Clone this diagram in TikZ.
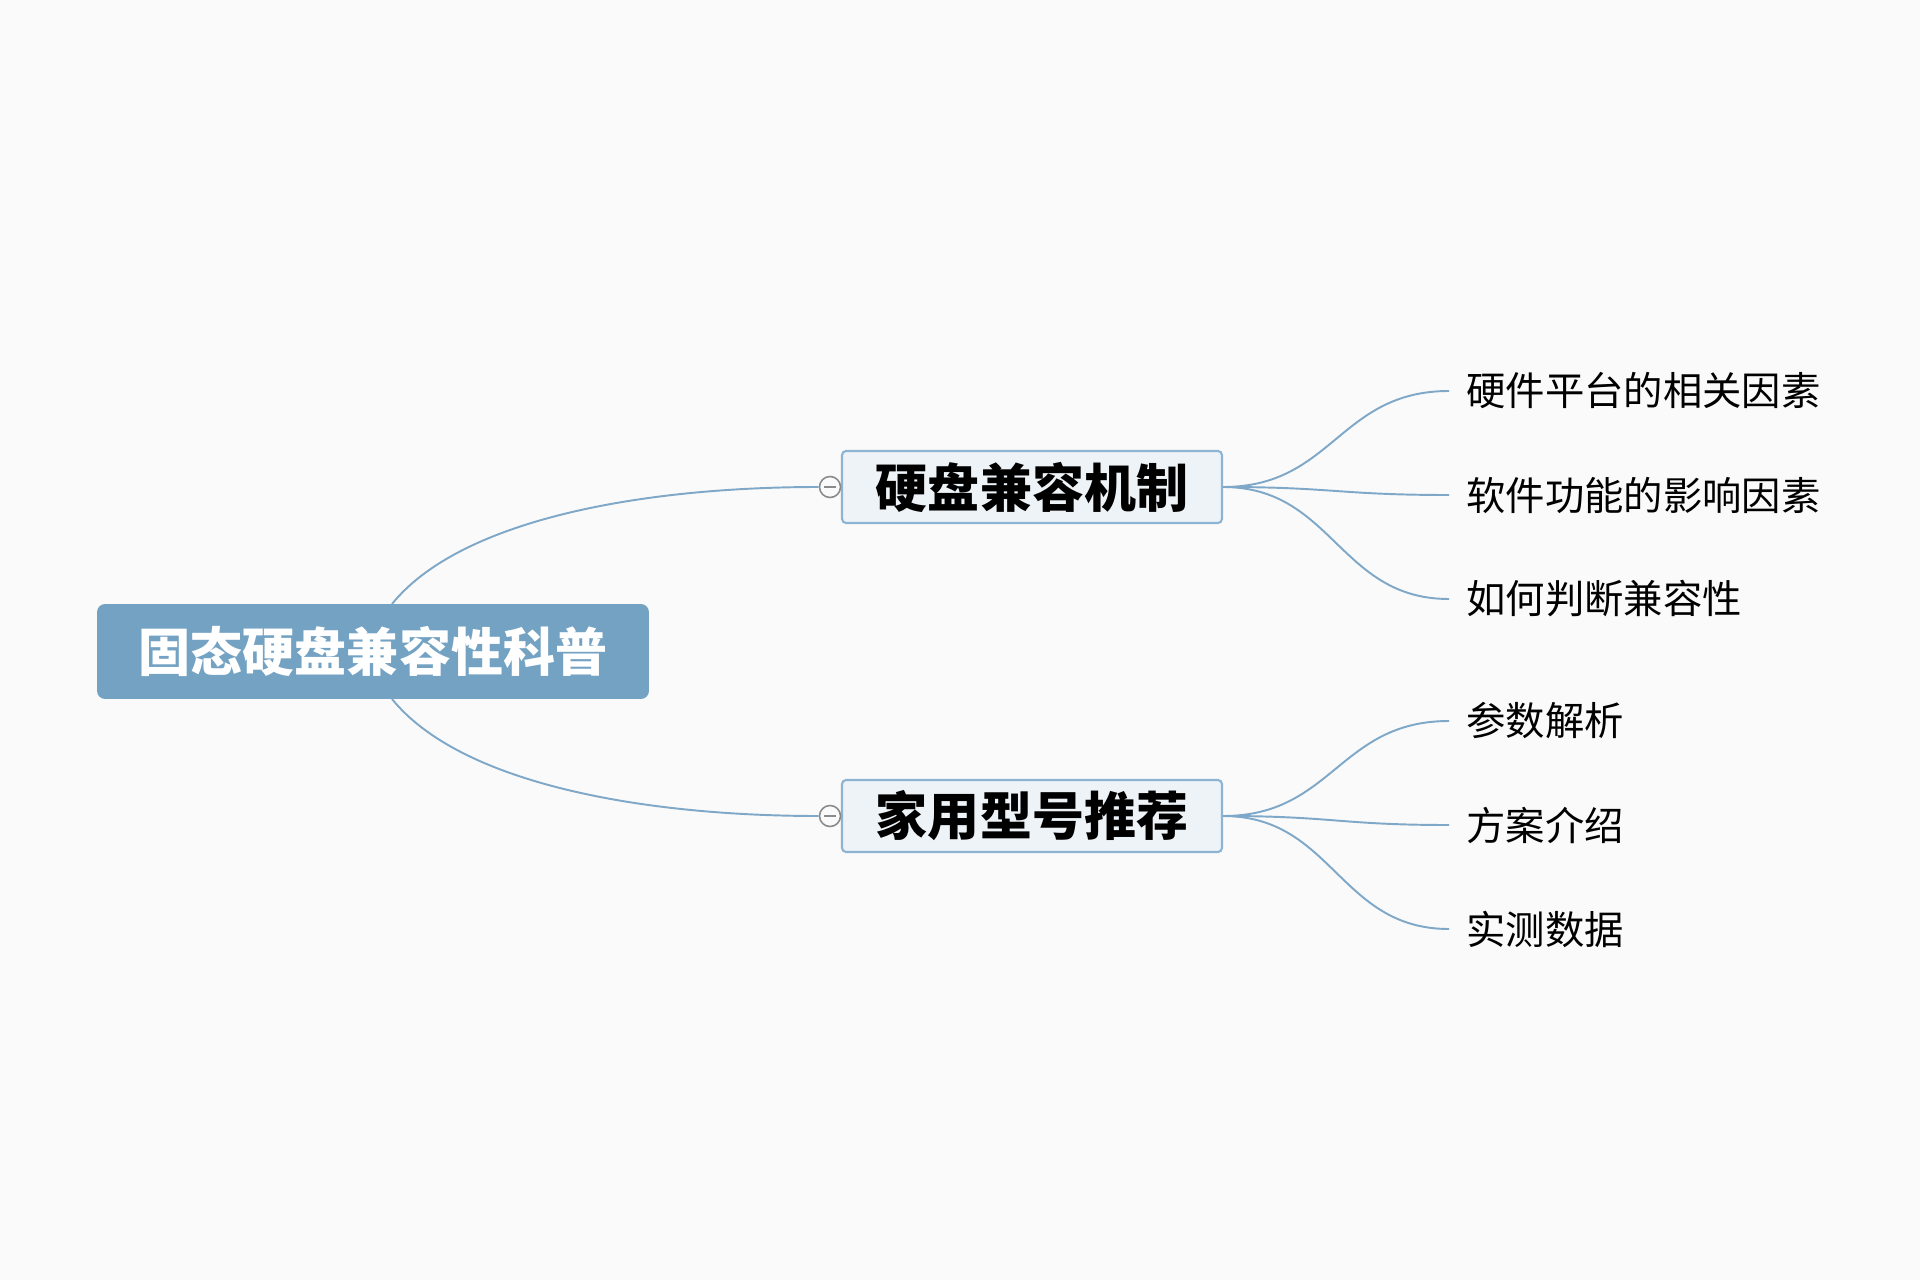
\documentclass[tikz,border=0pt]{standalone}
\usepackage{fontspec}
\newfontfamily\cjk{Noto Sans CJK SC}
\definecolor{bgc}{HTML}{FAFAFA}
\definecolor{rootfill}{HTML}{73A2C3}
\definecolor{subfill}{HTML}{EEF3F8}
\definecolor{subdraw}{HTML}{8DB4D2}
\definecolor{linec}{HTML}{7FA8C8}
\definecolor{markc}{HTML}{8A8A8A}
\tikzset{
  rootbox/.style={fill=rootfill, rounded corners=0.16cm, minimum width=11.04cm, minimum height=1.9cm, inner sep=0pt, text=white, font=\cjk\bfseries\fontsize{29.6pt}{32pt}\selectfont},
  subbox/.style={fill=subfill, draw=subdraw, line width=1.2pt, rounded corners=0.08cm, minimum width=7.6cm, minimum height=1.44cm, inner sep=0pt, text=black, font=\cjk\bfseries\fontsize{29.6pt}{32pt}\selectfont},
  leaf/.style={anchor=west, inner ysep=0pt, inner xsep=0.34cm, text=black, font=\cjk\fontsize{22.4pt}{26pt}\selectfont},
  marker/.style={circle, draw=markc, line width=0.9pt, fill=bgc, minimum size=0.42cm, inner sep=0pt},
  conn/.style={draw=linec, line width=1.1pt},
}
\begin{document}
\begin{tikzpicture}[x=0.02cm, y=-0.02cm]
\fill[bgc] (0,0) rectangle (1920,1280);
\useasboundingbox (0,0) rectangle (1920,1280);

\node[rootbox] (root) at (373,651.5) {固态硬盘兼容性科普};
\coordinate (rtop) at (392,604);
\coordinate (rbot) at (392,699);

\node[subbox] (b1) at (1032,487) {硬盘兼容机制};
\node[subbox] (b2) at (1032,816) {家用型号推荐};

\node[marker] (m1) at (830,487) {};
\node[marker] (m2) at (830,816) {};
\draw[markc, line width=0.9pt] ([xshift=-0.12cm]m1.center) -- ([xshift=0.12cm]m1.center);
\draw[markc, line width=0.9pt] ([xshift=-0.12cm]m2.center) -- ([xshift=0.12cm]m2.center);

\draw[conn] (rtop) .. controls (460,520) and (640,487) .. (m1.west);
\draw[conn] (rbot) .. controls (460,783) and (640,816) .. (m2.west);
\draw[conn] (m1.east) -- (b1.west);
\draw[conn] (m2.east) -- (b2.west);

\node[leaf] (l1) at (1449,391) {硬件平台的相关因素};
\node[leaf] (l2) at (1449,495) {软件功能的影响因素};
\node[leaf] (l3) at (1449,599) {如何判断兼容性};
\node[leaf] (l4) at (1449,721) {参数解析};
\node[leaf] (l5) at (1449,825) {方案介绍};
\node[leaf] (l6) at (1449,929) {实测数据};

\foreach \l in {l1,l2,l3} {
  \draw[conn] (b1.east) .. controls +(110,0) and +(-110,0) .. (\l.west);
}
\foreach \l in {l4,l5,l6} {
  \draw[conn] (b2.east) .. controls +(110,0) and +(-110,0) .. (\l.west);
}
\end{tikzpicture}
\end{document}
